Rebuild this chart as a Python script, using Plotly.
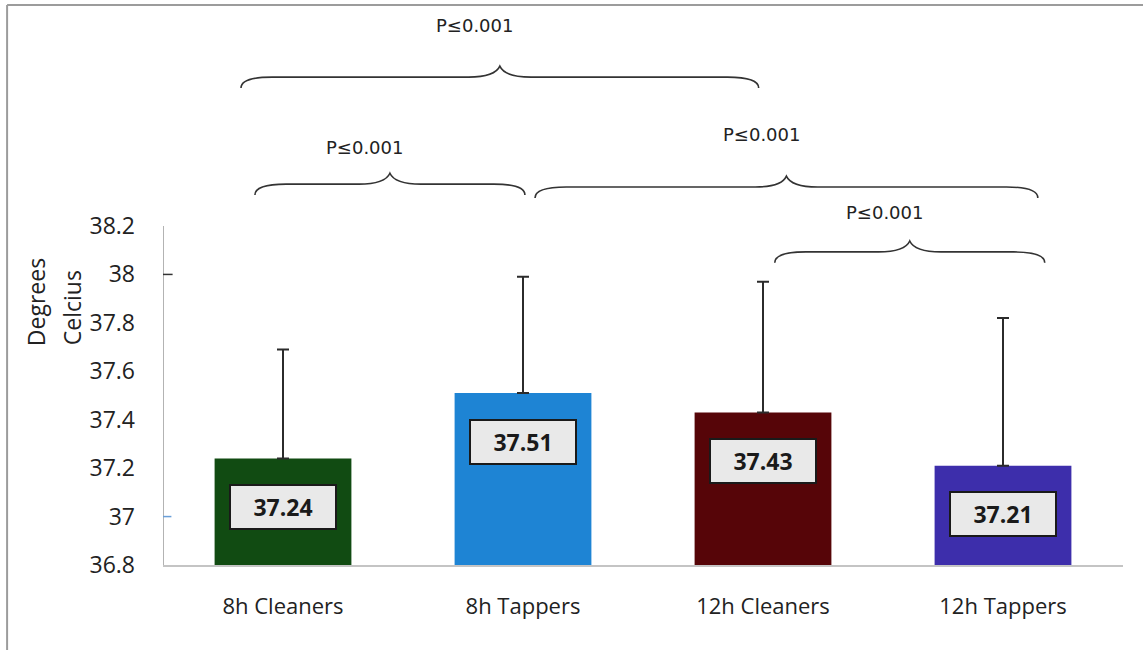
import plotly.graph_objects as go

# ---- data -------------------------------------------------------------
categories = ["8h Cleaners", "8h Tappers", "12h Cleaners", "12h Tappers"]
mean_temp = [37.24, 37.51, 37.43, 37.21]
sd_upper = [0.45, 0.48, 0.54, 0.61]
bar_colors = ["#114b12", "#1e84d4", "#560508", "#3d2eab"]

# pairwise comparisons (category indices) and their p-value labels
comparisons = [(0, 2), (0, 1), (1, 3), (2, 3)]
p_labels = ["P\u22640.001", "P\u22640.001", "P\u22640.001", "P\u22640.001"]

# ---- brace geometry (axis units) --------------------------------------
# per comparison: (left offset, right offset, brace line level, label level)
brace_geom = [
    (-0.175, -0.018, 38.815, 39.03),
    (-0.117, 0.008, 38.373, 38.526),
    (0.050, 0.145, 38.361, 38.576),
    (0.049, 0.174, 38.093, 38.254),
]
END_DROP = 0.045   # how far the brace ends hang below its line
TIP_RISE = 0.045   # how far the centre point rises above its line
END_RUN = 0.13     # horizontal length of the end curls
TIP_RUN = 0.13     # horizontal length of the centre curls

x_pos = list(range(len(categories)))
Y_MIN, Y_MAX = 36.8, 36.8 + 525 / 242.14


def to_paper_y(v):
    """Value-axis units -> paper fraction (lets labels sit above the range)."""
    return (v - Y_MIN) / (Y_MAX - Y_MIN)


fig = go.Figure()
fig.add_trace(go.Bar(
    x=x_pos,
    y=mean_temp,
    width=0.57,
    marker=dict(color=bar_colors, line=dict(width=0)),
    error_y=dict(type="data", symmetric=False, array=sd_upper,
                 arrayminus=[0] * len(mean_temp),
                 color="#2b2b2b", thickness=2, width=6),
    showlegend=False,
    hoverinfo="skip",
))

shapes = []
annotations = []

# value boxes inside the bars
for xi, v in zip(x_pos, mean_temp):
    annotations.append(dict(
        x=xi, y=v - 0.2, xref="x", yref="y",
        text=f"<b>{v:.2f}</b>", showarrow=False,
        font=dict(family="Open Sans", size=23, color="#1a1a1a"),
        bgcolor="#e9e9e9", bordercolor="#1a1a1a", borderwidth=2,
        borderpad=0, width=104, height=42,
        xanchor="center", yanchor="middle",
    ))


def brace_path(x0, x1, yl):
    xm = (x0 + x1) / 2
    ye = yl - END_DROP
    yt = yl + TIP_RISE
    return (
        f"M {x0},{ye} Q {x0},{yl} {x0 + END_RUN},{yl} "
        f"L {xm - TIP_RUN},{yl} Q {xm - 0.02},{yl} {xm},{yt} "
        f"Q {xm + 0.02},{yl} {xm + TIP_RUN},{yl} "
        f"L {x1 - END_RUN},{yl} Q {x1},{yl} {x1},{ye}"
    )


for (i, j), label, (lo, ro, yl, ylab) in zip(comparisons, p_labels, brace_geom):
    x0, x1 = i + lo, j + ro
    shapes.append(dict(type="path", xref="x", yref="y",
                       path=brace_path(x0, x1, yl),
                       line=dict(color="#333333", width=1.6)))
    annotations.append(dict(
        x=(x0 + x1) / 2 - 0.105, y=to_paper_y(ylab), xref="x", yref="paper",
        text=label, showarrow=False,
        font=dict(family="DejaVu Sans", size=18, color="#222222"),
        xanchor="center", yanchor="middle",
    ))

# value axis line (only over the labelled range) and its small marks
shapes.append(dict(type="line", xref="x", yref="y", x0=-0.5, x1=-0.5,
                   y0=36.8, y1=38.2, line=dict(color="#9a9a9a", width=1.5)))
shapes.append(dict(type="line", xref="x", yref="y", x0=-0.5, x1=-0.46,
                   y0=38.0, y1=38.0, line=dict(color="#333333", width=1.5)))
shapes.append(dict(type="line", xref="x", yref="y", x0=-0.5, x1=-0.465,
                   y0=37.0, y1=37.0, line=dict(color="#6a9fd8", width=1.5)))

# outer frame
for fx0, fy0, fx1, fy1 in [(-0.1624, -0.17, -0.1624, 1.0667),
                           (-0.1624, 1.0667, 1.0588, 1.0667),
                           (1.0588, -0.17, 1.0588, 1.0667)]:
    shapes.append(dict(type="line", xref="paper", yref="paper",
                       x0=fx0, y0=fy0, x1=fx1, y1=fy1,
                       line=dict(color="#9c9c9c", width=2)))

# value axis title, two stacked rotated lines
for text, xp, yv in [("Degrees", -0.1322, 37.886), ("Celcius", -0.0947, 37.861)]:
    annotations.append(dict(
        x=xp, y=yv, xref="paper", yref="y", text=text, showarrow=False,
        textangle=-90, font=dict(family="Open Sans", size=23, color="#222222"),
        xanchor="center", yanchor="middle",
    ))

fig.update_layout(
    width=1143, height=650,
    margin=dict(l=163, r=20, t=40, b=85),
    plot_bgcolor="white", paper_bgcolor="white",
    shapes=shapes, annotations=annotations,
    bargap=0.43,
    xaxis=dict(
        range=[-0.5, 3.5], tickvals=x_pos, ticktext=categories,
        showgrid=False, zeroline=False, ticks="",
        showline=True, linecolor="#c4c4c4", linewidth=2,
        tickfont=dict(family="Open Sans", size=22, color="#222222"),
        ticklabelstandoff=21,
    ),
    yaxis=dict(
        range=[Y_MIN, Y_MAX],
        tickvals=[36.8, 37.0, 37.2, 37.4, 37.6, 37.8, 38.0, 38.2],
        ticktext=["36.8", "37", "37.2", "37.4", "37.6", "37.8", "38", "38.2"],
        showgrid=False, zeroline=False, showline=False, ticks="",
        tickfont=dict(family="Open Sans", size=23, color="#222222"),
        ticklabelstandoff=27,
    ),
)

fig.write_html("out.html")
